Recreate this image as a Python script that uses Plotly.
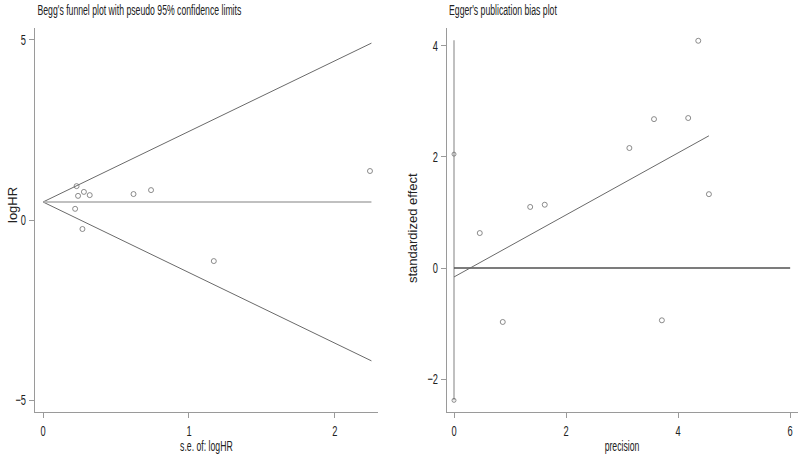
import plotly.graph_objects as go

# ---- Begg's funnel plot data ----
begg_se = [0.22, 0.23, 0.24, 0.27, 0.28, 0.32, 0.62, 0.74, 1.17, 2.24]
begg_loghr = [0.31, 0.94, 0.67, -0.25, 0.78, 0.69, 0.72, 0.83, -1.14, 1.36]
pooled_loghr = 0.5
funnel_se = [0.0, 2.25]

# ---- Egger's plot data ----
egger_precision = [0.46, 0.87, 1.36, 1.62, 3.13, 3.57, 3.71, 4.18, 4.36, 4.55]
egger_stdeff = [0.63, -0.97, 1.10, 1.14, 2.16, 2.68, -0.94, 2.70, 4.09, 1.33]
egger_line_x = [0.0, 4.55]
egger_line_y = [-0.16, 2.38]
ci_x = [0.0, 0.0]
ci_y = [-2.38, 4.10]
ci_marks_y = [2.05, -2.38]
zero_x = [0.0, 6.0]
zero_y = [0.0, 0.0]

left_xticks = [0, 1, 2]
left_yticks = [-5, 0, 5]
right_xticks = [0, 2, 4, 6]
right_yticks = [-2, 0, 2, 4]

FONT = "Liberation Sans, Arial, sans-serif"
LINE = "#6a6a6a"
MARK = "#6e6e6e"
AX = "#9a9a9a"
TXT = "#222222"

upper = [pooled_loghr + 1.96 * s for s in funnel_se]
lower = [pooled_loghr - 1.96 * s for s in funnel_se]

fig = go.Figure()
# left panel
fig.add_trace(go.Scatter(x=funnel_se, y=upper, mode="lines", line=dict(color=LINE, width=1), xaxis="x", yaxis="y", hoverinfo="skip"))
fig.add_trace(go.Scatter(x=funnel_se, y=lower, mode="lines", line=dict(color=LINE, width=1), xaxis="x", yaxis="y", hoverinfo="skip"))
fig.add_trace(go.Scatter(x=funnel_se, y=[pooled_loghr, pooled_loghr], mode="lines", line=dict(color="#ababab", width=1.5), xaxis="x", yaxis="y", hoverinfo="skip"))
fig.add_trace(go.Scatter(x=begg_se, y=begg_loghr, mode="markers",
                         marker=dict(symbol="circle-open", size=5, color=MARK, line=dict(width=0.8)),
                         xaxis="x", yaxis="y"))
# right panel
fig.add_trace(go.Scatter(x=ci_x, y=ci_y, mode="lines", line=dict(color="#ababab", width=1.5), xaxis="x2", yaxis="y2", hoverinfo="skip"))
fig.add_trace(go.Scatter(x=[0.0, 0.0], y=ci_marks_y, mode="markers",
                         marker=dict(symbol="circle-open", size=4, color=MARK, line=dict(width=0.8)),
                         xaxis="x2", yaxis="y2"))
fig.add_trace(go.Scatter(x=zero_x, y=zero_y, mode="lines", line=dict(color="#505050", width=1.5), xaxis="x2", yaxis="y2", hoverinfo="skip"))
fig.add_trace(go.Scatter(x=egger_line_x, y=egger_line_y, mode="lines", line=dict(color=LINE, width=1), xaxis="x2", yaxis="y2", hoverinfo="skip"))
fig.add_trace(go.Scatter(x=egger_precision, y=egger_stdeff, mode="markers",
                         marker=dict(symbol="circle-open", size=5, color=MARK, line=dict(width=0.8)),
                         xaxis="x2", yaxis="y2"))

axcommon = dict(showgrid=False, zeroline=False, showline=True, linecolor=AX, linewidth=1,
                ticks="outside", ticklen=5, tickcolor=AX, automargin=False,
                tickfont=dict(family=FONT, size=15, color=TXT))

ML, MR, MT, MB = 35, 2, 28, 45
PW = 800 - ML - MR
PH = 457 - MT - MB


def px(xp):
    return (xp - ML) / PW


def py(yp):
    return (457 - MB - yp) / PH


fig.update_layout(
    width=800, height=457,
    margin=dict(l=ML, r=MR, t=MT, b=MB),
    paper_bgcolor="white", plot_bgcolor="white",
    showlegend=False,
    xaxis=dict(domain=[0, px(378)], range=[-0.055, 2.295], tickvals=left_xticks, anchor="y", **axcommon),
    yaxis=dict(domain=[0, 1], range=[-5.33, 5.33], tickvals=left_yticks, anchor="x", **axcommon),
    xaxis2=dict(domain=[px(447), 1.0], range=[-0.125, 6.14], tickvals=right_xticks, anchor="y2", **axcommon),
    yaxis2=dict(domain=[0, 1], range=[-2.59, 4.32], tickvals=right_yticks, anchor="x2", **axcommon),
    annotations=[
        dict(text="Begg's funnel plot with pseudo 95% confidence limits", xref="paper", yref="paper",
             x=px(139), y=py(10), xanchor="center", yanchor="middle", showarrow=False,
             font=dict(family=FONT, size=14, color=TXT)),
        dict(text="Egger's publication bias plot", xref="paper", yref="paper",
             x=px(503), y=py(10), xanchor="center", yanchor="middle", showarrow=False,
             font=dict(family=FONT, size=14, color=TXT)),
        dict(text="s.e. of: logHR", xref="paper", yref="paper",
             x=px(206), y=py(446), xanchor="center", yanchor="middle", showarrow=False,
             font=dict(family=FONT, size=14, color=TXT)),
        dict(text="precision", xref="paper", yref="paper",
             x=px(622), y=py(446), xanchor="center", yanchor="middle", showarrow=False,
             font=dict(family=FONT, size=14, color=TXT)),
        dict(text="logHR", xref="paper", yref="paper", textangle=-90,
             x=px(12), y=py(205), xanchor="center", yanchor="middle", showarrow=False,
             font=dict(family=FONT, size=13, color=TXT)),
        dict(text="standardized effect", xref="paper", yref="paper", textangle=-90,
             x=px(413), y=py(228), xanchor="center", yanchor="middle", showarrow=False,
             font=dict(family=FONT, size=13, color=TXT)),
    ],
)

# Remove the page margin, and horizontally condense the non-rotated texts
# (the original uses a narrow typeface)
post = """
document.body.style.margin = '0';
document.body.style.padding = '0';
var gd = document.getElementById('{plot_id}');
function squeeze(){
  gd.querySelectorAll('text').forEach(function(t){
    if (t.closest('[transform*="rotate(-90"]')) return;
    if (t.getAttribute('data-sq')) return;
    var L = t.getComputedTextLength();
    if (!L) return;
    t.setAttribute('data-sq', '1');
    t.setAttribute('textLength', (L * 0.62).toFixed(2));
    t.setAttribute('lengthAdjust', 'spacingAndGlyphs');
  });
}
squeeze();
gd.on && gd.on('plotly_afterplot', squeeze);
setTimeout(squeeze, 50);
setTimeout(squeeze, 300);
"""

fig.write_html("out.html", post_script=post, config={"displayModeBar": False})
